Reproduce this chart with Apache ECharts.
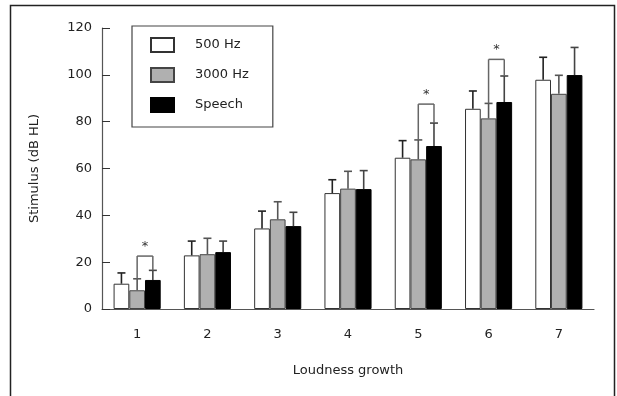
<!DOCTYPE html>
<html lang="en">
<head>
  <meta charset="UTF-8">
  <script src="https://cdn.jsdelivr.net/npm/echarts@6/dist/echarts.min.js"></script>
  <title>Loudness growth</title>
  <style>
    * { margin: 0; padding: 0; }
    html, body { width: 100%; height: 100%; background: #fff; }
    #chart { width: 617px; height: 396px; }
  </style>
</head>
<body>
<div id="chart"></div>
<script>
  // 数据
  var categories = ['1', '2', '3', '4', '5', '6', '7'];
  var m500 = [10.8, 22.9, 34.4, 49.5, 64.6, 85.5, 97.9];
  var e500 = [4.6, 6.1, 7.4, 5.7, 7.3, 7.6, 9.6];
  var m3000 = [8.0, 23.4, 38.3, 51.4, 63.9, 81.4, 91.9];
  var e3000 = [4.9, 6.8, 7.5, 7.4, 8.3, 6.4, 7.9];
  var mSpeech = [12.4, 24.3, 35.4, 51.2, 69.6, 88.4, 99.9];
  var eSpeech = [4.1, 4.7, 5.9, 7.9, 9.8, 11.1, 11.8];
  // 显著性标记 (3000 Hz vs Speech)
  var sigCats = [0, 4, 5];
  var sigTops = [22.6, 87.5, 106.6];
  var yTicks = [0, 20, 40, 60, 80, 100, 120];

  var FONT = 'DejaVu Sans';
  var BW = 15.7;

  var myChart = echarts.init(document.getElementById('chart'));

  function errSeries(means, errs, offset, color) {
    var data = means.map(function (m, i) { return [i, m, m + errs[i]]; });
    return {
      type: 'custom',
      silent: true,
      z: 5,
      data: data,
      renderItem: function (params, api) {
        var p0 = api.coord([api.value(0), api.value(1)]);
        var p1 = api.coord([api.value(0), api.value(2)]);
        var x = p0[0] + offset;
        return {
          type: 'group',
          children: [
            { type: 'line', shape: { x1: x, y1: p0[1], x2: x, y2: p1[1] }, style: { stroke: color, lineWidth: 1.6 } },
            { type: 'line', shape: { x1: x - 4, y1: p1[1], x2: x + 4, y2: p1[1] }, style: { stroke: color, lineWidth: 1.6 } }
          ]
        };
      }
    };
  }

  var sigData = sigCats.map(function (c, i) {
    return [c, m3000[c] + e3000[c], mSpeech[c] + eSpeech[c], sigTops[i]];
  });

  var option = {
    animation: false,
    textStyle: { fontFamily: FONT },
    graphic: [{
      type: 'rect',
      shape: { x: 10.5, y: 5.5, width: 604, height: 420 },
      style: { fill: null, stroke: '#222', lineWidth: 1.5 },
      silent: true
    }],
    legend: {
      orient: 'vertical',
      left: 132,
      top: 26,
      itemWidth: 23,
      itemHeight: 14,
      itemGap: 14,
      padding: [11, 24, 14, 18],
      borderColor: '#444',
      borderWidth: 1.2,
      icon: 'rect',
      textStyle: { fontSize: 13, color: '#222', fontFamily: FONT, padding: [0, 0, 0, 16] },
      data: ['500 Hz', '3000 Hz', 'Speech']
    },
    grid: { left: 102, right: 23, top: 28, bottom: 87 },
    xAxis: {
      type: 'category',
      data: categories,
      name: 'Loudness growth',
      nameLocation: 'middle',
      nameGap: 55,
      nameTextStyle: { fontSize: 13, color: '#222' },
      axisLine: { lineStyle: { color: '#555', width: 1.2 } },
      axisTick: { inside: true, length: 8, lineStyle: { color: '#333' } },
      axisLabel: { fontSize: 13, color: '#222', margin: 19 }
    },
    yAxis: {
      type: 'value',
      min: 0,
      max: 120,
      interval: 20,
      name: 'Stimulus (dB HL)',
      nameLocation: 'middle',
      nameGap: 61,
      nameTextStyle: { fontSize: 13, color: '#222' },
      splitLine: { show: false },
      axisLine: { show: true, lineStyle: { color: '#555', width: 1.2 } },
      axisTick: { show: true, inside: true, length: 8, lineStyle: { color: '#333' } },
      axisLabel: { fontSize: 13, color: '#222', margin: 10,
        formatter: function (v) { return yTicks.indexOf(v) >= 0 ? String(v) : ''; } }
    },
    series: [
      { name: '500 Hz', type: 'bar', data: m500, barWidth: BW, barGap: '0%',
        itemStyle: { color: '#ffffff', borderColor: '#333', borderWidth: 1 } },
      { name: '3000 Hz', type: 'bar', data: m3000, barWidth: BW, barGap: '0%',
        itemStyle: { color: '#b0b0b0', borderColor: '#444', borderWidth: 1 } },
      { name: 'Speech', type: 'bar', data: mSpeech, barWidth: BW, barGap: '0%',
        itemStyle: { color: '#000000', borderColor: '#000', borderWidth: 1 } },
      errSeries(m500, e500, -BW, '#222'),
      errSeries(m3000, e3000, 0, '#555'),
      errSeries(mSpeech, eSpeech, BW, '#444'),
      {
        type: 'custom',
        silent: true,
        z: 6,
        data: sigData,
        renderItem: function (params, api) {
          var c = api.value(0);
          var a = api.coord([c, api.value(1)]);
          var b = api.coord([c, api.value(2)]);
          var t = api.coord([c, api.value(3)]);
          var x1 = a[0], x2 = a[0] + BW;
          var st = { stroke: '#666', lineWidth: 1.5 };
          return {
            type: 'group',
            children: [
              { type: 'line', shape: { x1: x1, y1: a[1], x2: x1, y2: t[1] }, style: st },
              { type: 'line', shape: { x1: x2, y1: b[1], x2: x2, y2: t[1] }, style: st },
              { type: 'line', shape: { x1: x1, y1: t[1], x2: x2, y2: t[1] }, style: st },
              { type: 'text', x: (x1 + x2) / 2, y: t[1] - 3,
                style: { text: '*', fill: '#333', fontSize: 13, fontFamily: FONT, align: 'center', verticalAlign: 'bottom' } }
            ]
          };
        }
      }
    ]
  };

  myChart.setOption(option);
</script>
</body>
</html>
